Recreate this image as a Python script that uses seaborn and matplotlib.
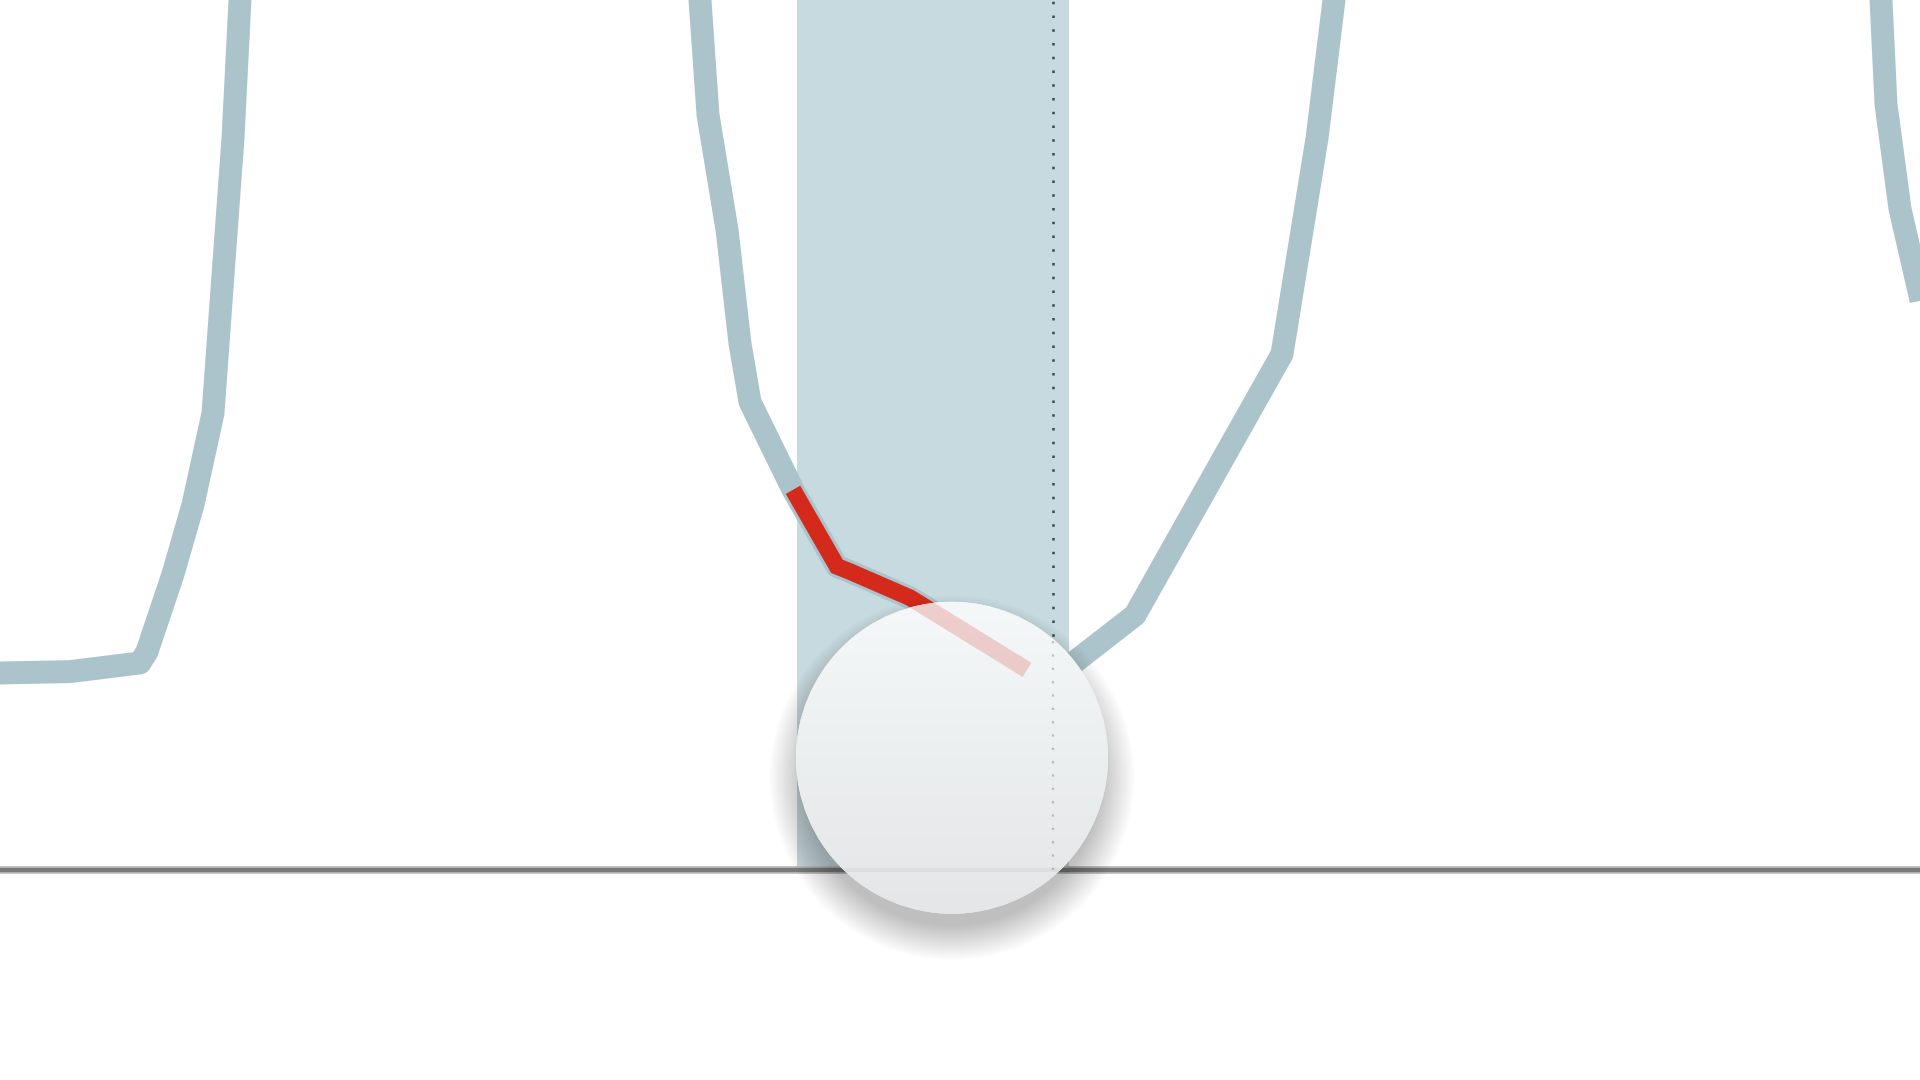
import numpy as np
import pandas as pd
import matplotlib.pyplot as plt
import seaborn as sns
from matplotlib.patches import Ellipse
from matplotlib.colors import LinearSegmentedColormap

# =========================
# Data
# =========================
# three visible pieces of the trace (the rest runs off the top)
left_t = [-1.0, 3.5, 7.0, 7.35, 8.65, 9.65, 10.65, 11.15, 11.65, 12.0, 12.15]
left_v = [22.6, 22.8, 23.8, 25.1, 34.0, 42.0, 52.5, 68.4, 84.1, 100.0, 104.6]

mid_t = [34.85, 35.0, 35.4, 36.35, 37.0, 37.5, 39.65, 41.85, 42.5, 45.5,
         51.35, 52.65, 53.45, 56.75, 64.1, 65.85, 66.7, 66.85]
mid_v = [104.5, 100.0, 86.8, 73.6, 60.5, 53.8, 43.7, 34.9, 34.3, 31.3,
         23.0, 21.3, 23.4, 29.3, 59.3, 84.1, 100.0, 104.5]

right_t = [93.9, 94.05, 94.3, 95.0, 96.0, 96.8]
right_v = [104.2, 100.0, 88.0, 76.0, 66.0, 57.0]

# selected window and playhead
band_start = 39.85
band_end = 53.45
playhead_t = 52.65
red_from = 39.65
red_to = 51.35

# scrubber handle
handle_t = 47.6
handle_v = 12.9

# =========================
# Build tables
# =========================
trace = pd.concat([
    pd.DataFrame({'t': left_t, 'v': left_v, 'seg': 'left'}),
    pd.DataFrame({'t': mid_t, 'v': mid_v, 'seg': 'mid'}),
    pd.DataFrame({'t': right_t, 'v': right_v, 'seg': 'right'}),
], ignore_index=True)

mid = pd.DataFrame({'t': mid_t, 'v': mid_v})
red = mid[(mid['t'] >= red_from) & (mid['t'] <= red_to)]

# =========================
# Figure
# =========================
sns.set_theme(style='white')

x_min, x_max = 0, 96
y_min, y_max = -24.14, 100

fig = plt.figure(figsize=(19.2, 10.8), dpi=100)
ax = fig.add_axes([0, 0, 1, 1])
ax.set_xlim(x_min, x_max)
ax.set_ylim(y_min, y_max)
ax.axis('off')

grey = '#abc3ca'
band_col = '#c7dadf'
red_col = '#d42a1c'

# selection band (stops at the baseline)
ax.fill_betweenx([0, y_max + 10], band_start, band_end,
                 color=band_col, lw=0, zorder=1)

# trace
sns.lineplot(data=trace, x='t', y='v', units='seg', estimator=None,
             sort=False, color=grey, linewidth=16.5, ax=ax, zorder=2,
             solid_joinstyle='round', solid_capstyle='butt')

# red highlight inside the window
ax.plot(red['t'], red['v'], color=red_col, lw=12, zorder=3,
        solid_joinstyle='miter', solid_capstyle='butt')

# playhead
ax.vlines(playhead_t, 0, y_max + 10, color='#3b474d', lw=1.8,
          linestyles=[(0, (1, 4.5))], zorder=3)

# baseline
ax.axhline(0, color='#b8b8b8', lw=5.5, zorder=4)
ax.axhline(0, color='#7a7a7a', lw=3.0, zorder=4)

# =========================
# Scrubber handle
# =========================
px_x = 1920 / (x_max - x_min)
px_y = 1080 / (y_max - y_min)
r_px = 156
w = 2 * r_px / px_x
h = 2 * r_px / px_y

# soft drop shadow, mostly below the disc
for i in range(16):
    grow = 26 - i * 2.2
    sh = Ellipse((handle_t, handle_v - 20 / px_y),
                 w + 2 * grow / px_x, h + 2 * grow / px_y,
                 facecolor='black', edgecolor='none', alpha=0.016, zorder=5)
    ax.add_patch(sh)

disc = Ellipse((handle_t, handle_v), w, h, facecolor='#eef0f1',
               edgecolor='none', zorder=6)
ax.add_patch(disc)

cmap = LinearSegmentedColormap.from_list('knob', ['#f5f8f9', '#eceff0', '#e4e6e7'])
grad = np.linspace(0, 1, 256).reshape(-1, 1)
img = ax.imshow(grad, cmap=cmap, aspect='auto', zorder=6.1,
                extent=[handle_t - w / 2, handle_t + w / 2,
                        handle_v - h / 2, handle_v + h / 2],
                interpolation='bilinear')
img.set_clip_path(disc)

# faint things seen through the handle
see_red, = ax.plot(red['t'], red['v'], color=red_col, lw=12, alpha=0.2,
                   zorder=6.2, solid_capstyle='butt')
see_red.set_clip_path(disc)
see_dot = ax.vlines(playhead_t, 0, y_max, color='#3b474d', lw=1.6,
                    linestyles=[(0, (1, 5))], alpha=0.3, zorder=6.2)
see_dot.set_clip_path(disc)
see_base = ax.axhline(0, color='#9a9a9a', lw=3, alpha=0.12, zorder=6.2)
see_base.set_clip_path(disc)

ax.set_xlim(x_min, x_max)
ax.set_ylim(y_min, y_max)

plt.savefig('out.png', dpi=100)
